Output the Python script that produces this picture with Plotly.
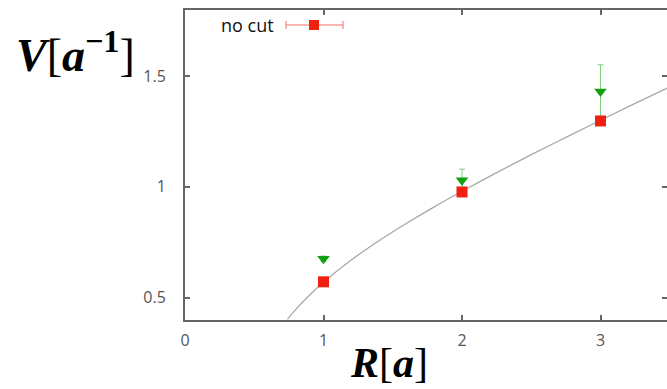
import plotly.graph_objects as go

# ---- data ----
R_points = [1, 2, 3]
V_nocut = [0.572, 0.977, 1.297]
R_cut = [1, 2, 3]
V_cut = [0.676, 1.03, 1.43]
V_cut_err = [0.012, 0.05, 0.12]

# fit curve
R_fit = [0.74, 0.8, 0.9, 1.0, 1.2, 1.4, 1.6, 1.8, 2.0, 2.25, 2.5, 2.75, 3.0, 3.25, 3.5]
V_fit = [0.404, 0.448, 0.513, 0.570, 0.670, 0.757, 0.836, 0.910, 0.980, 1.064,
         1.145, 1.223, 1.300, 1.376, 1.450]

x_ticks = [0, 1, 2, 3]
y_ticks = [0.5, 1, 1.5]

W, H = 667, 389
L, T, B = 185, 10, 69
pw, ph = W - L, H - T - B

def px(p):
    return (p - L) / pw

def py(p):
    return (H - B - p) / ph

fig = go.Figure()
fig.add_trace(go.Scatter(x=R_fit, y=V_fit, mode="lines", line=dict(color="#a8a8a8", width=1.3),
                         line_shape="spline", showlegend=False, hoverinfo="skip"))
fig.add_trace(go.Scatter(x=R_cut, y=V_cut, mode="markers",
                         marker=dict(symbol="triangle-down", size=11, color="#10a010"),
                         error_y=dict(type="data", array=V_cut_err, color="#80d080", thickness=1, width=3),
                         showlegend=False))
fig.add_trace(go.Scatter(x=R_points, y=V_nocut, mode="markers",
                         marker=dict(symbol="square", size=11, color="#f02010"),
                         showlegend=False))
# dummy trace for right-side mirror ticks
fig.add_trace(go.Scatter(x=[None], y=[None], yaxis="y2", showlegend=False))

axis_common = dict(ticks="inside", ticklen=5, tickwidth=1.5, tickcolor="#666",
                   showgrid=False, zeroline=False,
                   tickfont=dict(family="Open Sans", size=16, color="#555"))

fig.update_layout(
    width=W, height=H,
    margin=dict(l=L, r=0, t=T, b=B),
    paper_bgcolor="white", plot_bgcolor="white",
    xaxis=dict(range=[0, (W - L) / 138.5], tickvals=x_ticks, showline=True, linecolor="#666",
               linewidth=2, mirror="ticks", ticklabelstandoff=5, **axis_common),
    yaxis=dict(range=[0.4, 1.797], tickvals=y_ticks, ticktext=["0.5", "1", "1.5"],
               showline=True, linecolor="#666", linewidth=2, ticklabelstandoff=14, **axis_common),
    yaxis2=dict(range=[0.4, 1.797], tickvals=y_ticks, overlaying="y", side="right",
                showline=False, showticklabels=False, ticks="inside", ticklen=5, tickwidth=1.5,
                tickcolor="#666", showgrid=False, zeroline=False),
)

fig.add_annotation(xref="paper", yref="paper", x=px(75), y=py(52), xanchor="center", yanchor="middle",
                   text="<b><i>V</i></b>[<b><i>a</i></b><sup><b>−1</b></sup>]",
                   showarrow=False, font=dict(family="Liberation Serif", size=46, color="black"))
fig.add_annotation(xref="paper", yref="paper", x=px(389), y=py(363), xanchor="center", yanchor="middle",
                   text="<b><i>R</i></b>[<b><i>a</i></b>]",
                   showarrow=False, font=dict(family="Liberation Serif", size=42, color="black"))

# legend
fig.add_annotation(xref="paper", yref="paper", x=px(276), y=py(25), xanchor="right", yanchor="middle",
                   text="no cut", showarrow=False,
                   font=dict(family="Open Sans", size=18, color="#111"))
red = "#f02010"
fig.add_shape(type="line", xref="paper", yref="paper", x0=px(286), x1=px(343), y0=py(25), y1=py(25),
              line=dict(color="#f07060", width=1))
for cx in (286, 343):
    fig.add_shape(type="line", xref="paper", yref="paper", x0=px(cx), x1=px(cx), y0=py(21), y1=py(29),
                  line=dict(color="#f07060", width=1))
fig.add_shape(type="rect", xref="paper", yref="paper", x0=px(309), x1=px(319), y0=py(20), y1=py(30),
              line=dict(width=0), fillcolor=red)

fig.write_html("out.html", config={"displayModeBar": False},
               post_script="document.body.style.margin='0px';")
